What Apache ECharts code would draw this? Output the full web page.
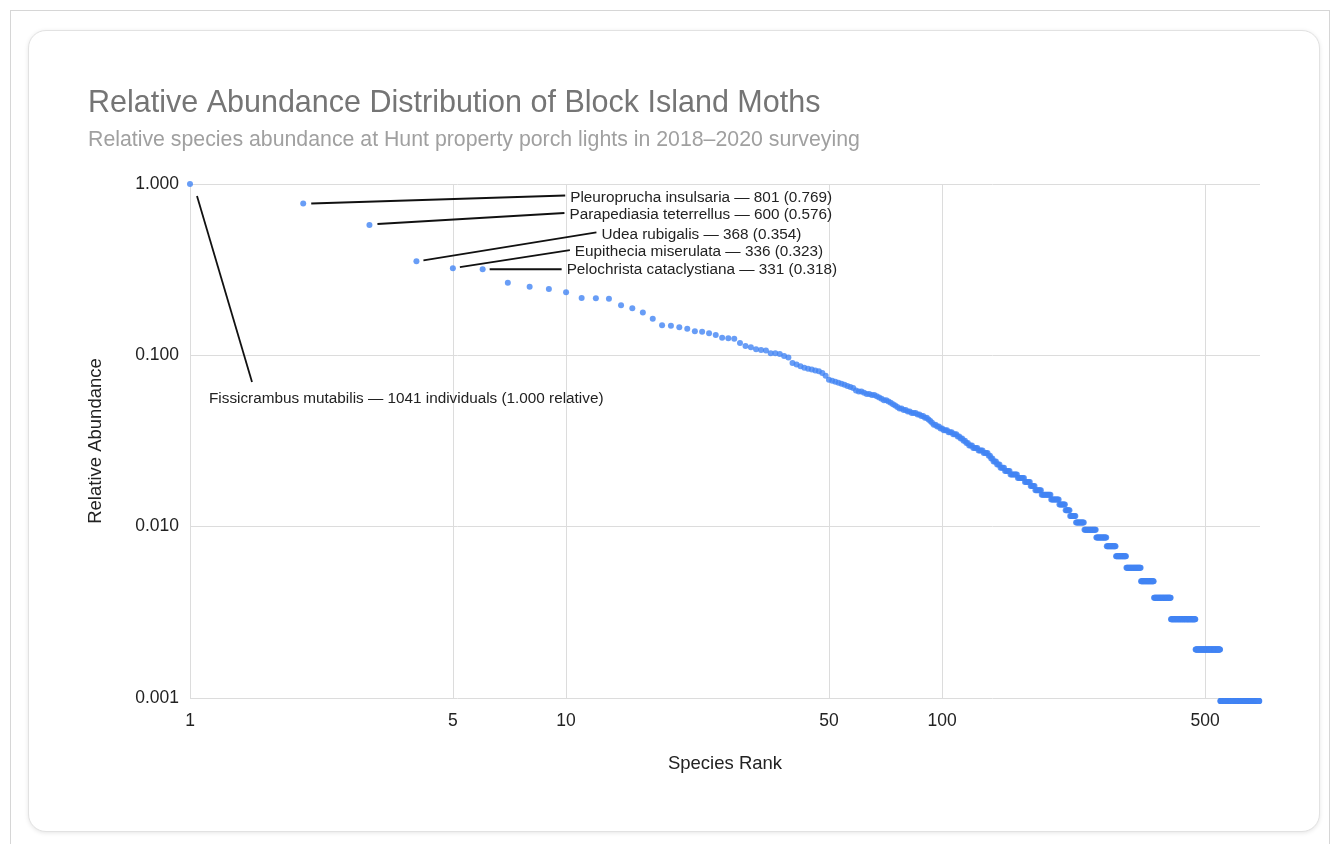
<!DOCTYPE html>
<html>
<head>
<meta charset="utf-8">
<script src="https://cdn.jsdelivr.net/npm/echarts@6/dist/echarts.min.js"></script>
<style>
  html, body { margin: 0; padding: 0; background: #fff; }
  #frame { position: absolute; left: 10px; top: 10px; width: 1318px; height: 840px; border: 1px solid #d6d6d6; border-bottom: none; }
  #card { position: absolute; left: 28px; top: 30px; width: 1290px; height: 800px; border: 1px solid #e2e2e2; border-radius: 18px; box-shadow: 0 1px 4px rgba(0,0,0,0.10); background: #fff; }
  #main { position: absolute; left: 0; top: 0; width: 1338px; height: 844px; }
</style>
</head>
<body>
<div id="frame"></div>
<div id="card"></div>
<div id="main"></div>
<script>
// individuals of the most common species (rank 1)
var topTotal = 1041;
// counts for ranks 1..94, one species each
var topCounts = [1041, 801, 600, 368, 336, 331, 276, 262, 254, 243, 225, 224, 223, 204, 196, 185, 170, 156, 155, 152,
  149, 144, 143, 140, 137, 132, 131, 130, 123, 118, 116, 113, 112, 111, 107, 107, 106, 103, 101, 94,
  92, 90, 88, 87, 86, 85, 84, 82, 79, 75, 74, 73, 72, 71, 70, 69, 68, 67, 65, 64,
  64, 63, 62, 62, 61, 61, 60, 59, 58, 57, 57, 56, 55, 54, 53, 52, 51, 51, 50, 50,
  49, 49, 48, 48, 48, 47, 47, 46, 46, 45, 45, 44, 43, 42];
// rest of the ranks: a count and how many species share it
var tailCounts = [41, 40, 39, 38, 37, 36, 35, 34, 33, 32, 31, 30, 29, 28, 27, 26, 25, 24, 23, 22,
  21, 20, 19, 18, 17, 16, 15, 14, 13, 12, 11, 10, 9, 8, 7, 6, 5, 4, 3, 2, 1];
var tailSpecies = [2, 2, 2, 3, 3, 3, 2, 2, 2, 2, 3, 4, 4, 4, 2, 2, 3, 3, 4, 5,
  7, 7, 6, 5, 7, 11, 10, 8, 6, 8, 12, 18, 17, 16, 19, 29, 28, 40, 66, 77, 149];

var xTicks = [1, 5, 10, 50, 100, 500];
var yTicks = [0.001, 0.01, 0.1, 1];

var annotNames = ['Fissicrambus mutabilis', 'Pleuroprucha insulsaria', 'Parapediasia teterrellus',
  'Udea rubigalis', 'Eupithecia miserulata', 'Pelochrista cataclystiana'];
var annotRanks = [1, 2, 3, 4, 5, 6];

var points = [];
for (var i = 0; i < topCounts.length; i++) {
  points.push([i + 1, topCounts[i] / topTotal]);
}
var rank = topCounts.length;
for (var j = 0; j < tailCounts.length; j++) {
  for (var k = 0; k < tailSpecies[j]; k++) {
    rank++;
    points.push([rank, tailCounts[j] / topTotal]);
  }
}

var font = '"Liberation Sans", Arial, sans-serif';
var chart = echarts.init(document.getElementById('main'));

chart.setOption({
  animation: false,
  title: [{
    text: 'Relative Abundance Distribution of Block Island Moths',
    left: 83, top: 83,
    textStyle: { fontFamily: font, fontSize: 30.5, fontWeight: 'normal', color: '#757575' }
  }, {
    text: 'Relative species abundance at Hunt property porch lights in 2018\u20132020 surveying',
    left: 83, top: 125,
    textStyle: { fontFamily: font, fontSize: 21.3, fontWeight: 'normal', color: '#a0a0a0' }
  }],
  grid: { left: 190, top: 184, width: 1070, height: 514 },
  xAxis: {
    type: 'log',
    logBase: 10,
    min: 1,
    max: 700,
    name: 'Species Rank',
    nameLocation: 'middle',
    nameGap: 56,
    nameTextStyle: { fontFamily: font, fontSize: 18.5, color: '#222' },
    axisLine: { show: false },
    axisTick: { show: false, customValues: xTicks },
    axisLabel: { customValues: xTicks, margin: 14, fontFamily: font, fontSize: 17.5, color: '#222' },
    splitLine: { show: true, lineStyle: { color: '#dcdcdc', width: 1 } }
  },
  yAxis: {
    type: 'log',
    logBase: 10,
    min: 0.001,
    max: 1,
    name: 'Relative Abundance',
    nameLocation: 'middle',
    nameGap: 85,
    nameTextStyle: { fontFamily: font, fontSize: 18.5, color: '#222' },
    axisLine: { show: false },
    axisTick: { show: false, customValues: yTicks },
    axisLabel: {
      customValues: yTicks, margin: 11, fontFamily: font, fontSize: 17.5, color: '#222',
      formatter: function(v) { return Number(v).toFixed(3); }
    },
    splitLine: { show: true, lineStyle: { color: '#dcdcdc', width: 1 } }
  },
  series: [{
    type: 'scatter',
    symbolSize: 6,
    clip: false,
    itemStyle: { color: '#4285f4' },
    data: points
  }]
});

// label offsets from each annotated point: line start, line end, text anchor
var annotLayout = [
  [7, 12, 62, 198, 19, 215],
  [8, 0, 262, -8, 267, -6],
  [8, -1, 195, -12, 200, -10],
  [7, -1, 180, -29, 185, -27],
  [7, -1, 117, -18, 122, -16],
  [7, 0, 79, 0, 84, 1]
];

var graphics = [];
for (var a = 0; a < annotRanks.length; a++) {
  var pt = points[annotRanks[a] - 1];
  var px = chart.convertToPixel({ seriesIndex: 0 }, pt);
  var lay = annotLayout[a];
  var cnt = topCounts[annotRanks[a] - 1];
  var txt = a === 0
    ? annotNames[a] + ' \u2014 ' + cnt + ' individuals (' + pt[1].toFixed(3) + ' relative)'
    : annotNames[a] + ' \u2014 ' + cnt + ' (' + pt[1].toFixed(3) + ')';
  graphics.push({
    type: 'line',
    shape: { x1: px[0] + lay[0], y1: px[1] + lay[1], x2: px[0] + lay[2], y2: px[1] + lay[3] },
    style: { stroke: '#111', lineWidth: 1.8 },
    z: 10
  });
  graphics.push({
    type: 'text',
    x: px[0] + lay[4],
    y: px[1] + lay[5],
    style: { text: txt, fill: '#222', font: '15.3px ' + font, verticalAlign: 'middle', align: 'left' },
    z: 10
  });
}
chart.setOption({ graphic: graphics });
</script>
</body>
</html>
